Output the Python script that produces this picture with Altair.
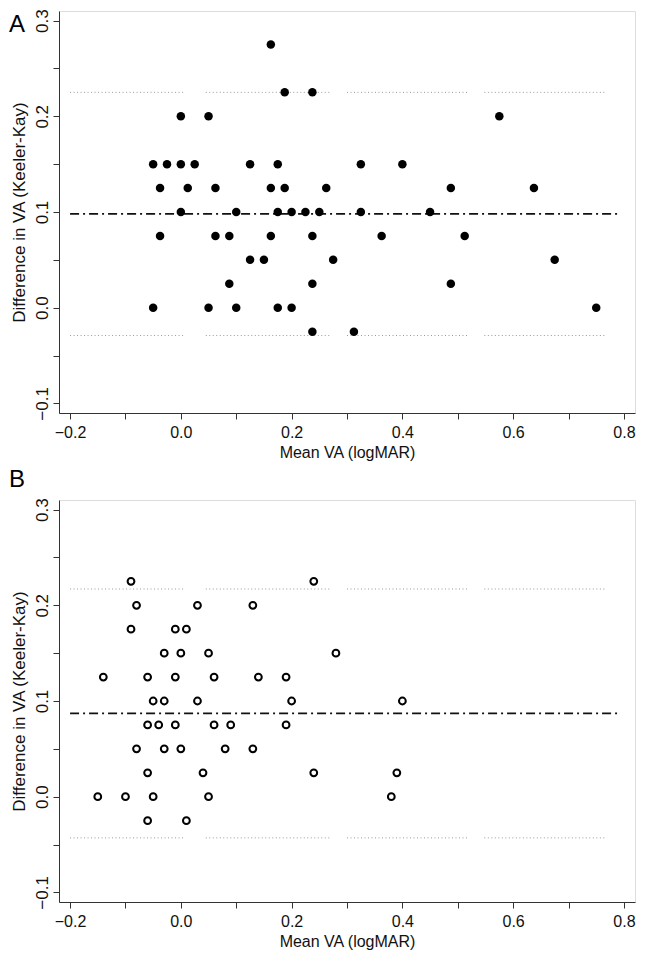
import altair as alt
import pandas as pd

FONT = "Liberation Sans"

# ---------------- Panel A (filled points) ----------------
a_mean = [0.1625,
          0.1875, 0.2375,
          0.0, 0.05, 0.575,
          -0.05, -0.025, 0.0, 0.025, 0.125, 0.175, 0.325, 0.4,
          -0.0375, 0.0125, 0.0625, 0.1625, 0.1875, 0.2625, 0.4875, 0.6375,
          0.0, 0.1, 0.175, 0.2, 0.225, 0.25, 0.325, 0.45,
          -0.0375, 0.0625, 0.0875, 0.1625, 0.2375, 0.3625, 0.5125,
          0.125, 0.15, 0.275, 0.675,
          0.0875, 0.2375, 0.4875,
          -0.05, 0.05, 0.1, 0.175, 0.2, 0.75,
          0.2375, 0.3125]
a_diff = [0.275,
          0.225, 0.225,
          0.2, 0.2, 0.2,
          0.15, 0.15, 0.15, 0.15, 0.15, 0.15, 0.15, 0.15,
          0.125, 0.125, 0.125, 0.125, 0.125, 0.125, 0.125, 0.125,
          0.1, 0.1, 0.1, 0.1, 0.1, 0.1, 0.1, 0.1,
          0.075, 0.075, 0.075, 0.075, 0.075, 0.075, 0.075,
          0.05, 0.05, 0.05, 0.05,
          0.025, 0.025, 0.025,
          0.0, 0.0, 0.0, 0.0, 0.0, 0.0,
          -0.025, -0.025]
a_bias = 0.098
a_upper = 0.225
a_lower = -0.029

# ---------------- Panel B (open circles) ----------------
b_mean = [-0.09, 0.24,
          -0.08, 0.03, 0.13,
          -0.09, -0.01, 0.01,
          -0.03, 0.0, 0.05, 0.28,
          -0.14, -0.06, -0.01, 0.06, 0.14, 0.19,
          -0.05, -0.03, 0.03, 0.2, 0.4,
          -0.06, -0.04, -0.01, 0.06, 0.09, 0.19,
          -0.08, -0.03, 0.0, 0.08, 0.13,
          -0.06, 0.04, 0.24, 0.39,
          -0.15, -0.10, -0.05, 0.05, 0.38,
          -0.06, 0.01]
b_diff = [0.225, 0.225,
          0.2, 0.2, 0.2,
          0.175, 0.175, 0.175,
          0.15, 0.15, 0.15, 0.15,
          0.125, 0.125, 0.125, 0.125, 0.125, 0.125,
          0.1, 0.1, 0.1, 0.1, 0.1,
          0.075, 0.075, 0.075, 0.075, 0.075, 0.075,
          0.05, 0.05, 0.05, 0.05, 0.05,
          0.025, 0.025, 0.025, 0.025,
          0.0, 0.0, 0.0, 0.0, 0.0,
          -0.025, -0.025]
b_bias = 0.087
b_upper = 0.217
b_lower = -0.043

# limits-of-agreement dotted line pieces (as drawn, broken into segments)
loa_start = [-0.2, 0.045, 0.30, 0.548]
loa_end = [0.007, 0.27, 0.517, 0.768]
bias_start = -0.2
bias_end = 0.79

x_ticks = [-0.2, -0.1, 0.0, 0.1, 0.2, 0.3, 0.4, 0.5, 0.6, 0.7, 0.8]
y_ticks = [-0.1, -0.05, 0.0, 0.05, 0.1, 0.15, 0.2, 0.25, 0.3]
X_DOMAIN = [-0.22, 0.82]
Y_DOMAIN = [-0.11, 0.31]

AX_COL = "#333333"
LAB_COL = "#111111"

x_axis = alt.Axis(
    values=x_ticks,
    labelExpr="abs(datum.value*5 - round(datum.value*5)) < 0.001 ? format(datum.value, '.1f') : ''",
    grid=False, tickSize=6, tickColor=AX_COL, domainColor=AX_COL,
    labelFont=FONT, labelFontSize=16, labelColor=LAB_COL, labelPadding=5,
    labelFlush=False, labelOverlap=False,
    title="Mean VA (logMAR)", titleFont=FONT, titleFontSize=16,
    titleFontWeight="normal", titleColor=LAB_COL, titlePadding=4,
)
y_axis = alt.Axis(
    values=y_ticks,
    labelExpr="abs(datum.value*10 - round(datum.value*10)) < 0.001 ? format(datum.value, '.1f') : ''",
    grid=False, tickSize=6, tickColor=AX_COL, domainColor=AX_COL,
    labelFont=FONT, labelFontSize=17, labelColor=LAB_COL, labelPadding=6,
    labelAngle=270, labelAlign="center", labelBaseline="alphabetic",
    labelFlush=False, labelOverlap=False,
    title="Difference in VA (Keeler-Kay)", titleFont=FONT, titleFontSize=17,
    titleFontWeight="normal", titleColor=LAB_COL, titlePadding=5,
)

xs = alt.Scale(domain=X_DOMAIN, nice=False, zero=False)
ys = alt.Scale(domain=Y_DOMAIN, nice=False, zero=False)

W, H = 576, 402


def panel(mx, dy, bias, upper, lower, filled, letter, letter_y):
    pts = pd.DataFrame({"x": mx, "y": dy})
    segs = []
    for s, e in zip(loa_start, loa_end):
        segs.append({"x": s, "x2": e, "y": upper})
        segs.append({"x": s, "x2": e, "y": lower})
    segs = pd.DataFrame(segs)
    bias_df = pd.DataFrame({"x": [bias_start], "x2": [bias_end], "y": [bias]})

    X = alt.X("x:Q", scale=xs, axis=x_axis)
    Y = alt.Y("y:Q", scale=ys, axis=y_axis)

    loa = alt.Chart(segs).mark_rule(
        color="#999999", strokeWidth=1, strokeDash=[1, 2.5]
    ).encode(x=X, x2="x2:Q", y=Y)
    mean_line = alt.Chart(bias_df).mark_rule(
        color="#111111", strokeWidth=1.8, strokeDash=[9, 4, 2, 4]
    ).encode(x=X, x2="x2:Q", y=Y)
    if filled:
        p = alt.Chart(pts).mark_point(
            shape="circle", filled=True, color="#000000", size=72, opacity=1
        ).encode(x=X, y=Y)
    else:
        p = alt.Chart(pts).mark_point(
            shape="circle", filled=False, color="#000000", size=46,
            strokeWidth=2, opacity=1
        ).encode(x=X, y=Y)
    lab = alt.Chart(pd.DataFrame({"t": [letter]})).mark_text(
        font=FONT, fontSize=24, color="#000000", align="center", baseline="middle"
    ).encode(text="t:N", x=alt.value(-42), y=alt.value(letter_y))
    return alt.layer(loa, mean_line, p, lab).properties(width=W, height=H)


chart_a = panel(a_mean, a_diff, a_bias, a_upper, a_lower, True, "A", 14)
chart_b = panel(b_mean, b_diff, b_bias, b_upper, b_lower, False, "B", -20)

chart = alt.vconcat(chart_a, chart_b, spacing=6).properties(
    padding={"left": 0, "top": 0, "right": 0, "bottom": 0}
).configure_view(stroke=None).configure(background="white")

chart.save("out.html", embed_options={"renderer": "svg", "actions": False})
